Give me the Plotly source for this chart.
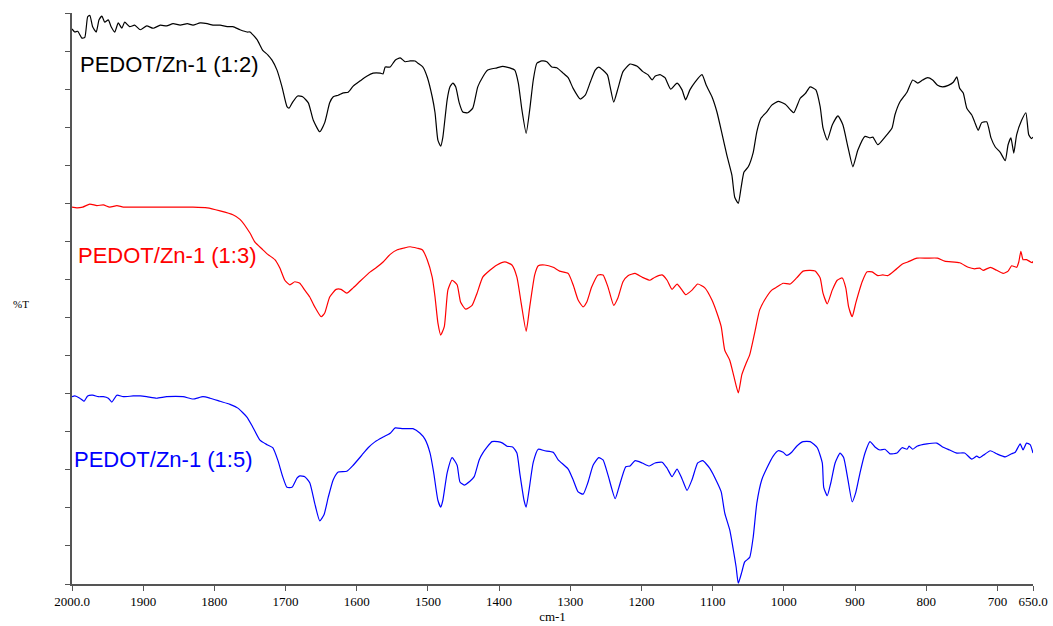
import plotly.graph_objects as go

# FTIR spectra of PEDOT/Zn-1 composites (wavenumber in cm-1, %T in arbitrary offset units)
wn_12 = [2000, 1996, 1992, 1986, 1982, 1978, 1975, 1971, 1966, 1962, 1958, 1954, 1949, 1945, 1940,
         1935, 1930, 1926, 1919, 1912, 1904, 1895, 1886, 1876, 1867, 1858, 1848, 1838, 1830, 1820,
         1810, 1802, 1792, 1782, 1774, 1764, 1754, 1750, 1740, 1732, 1725, 1719, 1712, 1705, 1698,
         1695, 1690, 1683, 1676, 1668, 1661, 1652, 1645, 1638, 1633, 1626, 1619, 1612, 1605, 1595,
         1586, 1577, 1567, 1563, 1560, 1553, 1546, 1539, 1532, 1525, 1518, 1514, 1507, 1501, 1494,
         1490, 1486, 1482, 1479, 1473, 1469, 1465, 1461, 1456, 1451, 1444, 1437, 1430, 1423, 1416,
         1403, 1395, 1385, 1378, 1373, 1368, 1362, 1357, 1352, 1347, 1340, 1333, 1326, 1319, 1310,
         1303, 1296, 1286, 1279, 1272, 1265, 1260, 1248, 1244, 1239, 1233, 1226, 1216, 1206, 1198,
         1191, 1185, 1181, 1174, 1167, 1159, 1150, 1143, 1138, 1132, 1125, 1115, 1109, 1101, 1094,
         1087, 1080, 1073, 1069, 1064, 1060, 1056, 1050, 1043, 1038, 1032, 1024, 1017, 1008, 998,
         991, 986, 977, 970, 963, 955, 949, 945, 939, 932, 924, 917, 910, 903, 896,
         886, 879, 875, 868, 858, 848, 844, 837, 827, 819, 812, 805, 798, 791, 784,
         777, 769, 762, 757, 753, 748, 743, 736, 732, 727, 722, 715, 709, 703, 696,
         689, 685, 681, 677, 673, 666, 660, 656, 652, 650]
t_12 = [72.9, 72.5, 72.6, 71.7, 71.8, 74.5, 74.7, 73.2, 72.5, 74.1, 74.6, 73.8, 74.1, 73.2, 72.5,
        73.7, 73.0, 73.8, 73.2, 73.4, 72.8, 73.3, 73.0, 73.4, 73.3, 73.6, 73.4, 73.6, 73.4, 73.7,
        73.6, 73.4, 73.4, 73.2, 73.2, 72.8, 72.5, 72.5, 71.5, 70.1, 69.5, 68.8, 67.5, 65.3, 62.7,
        62.5, 63.3, 64.1, 64.0, 63.2, 60.9, 59.4, 60.6, 63.2, 64.0, 64.2, 64.5, 64.6, 65.4, 66.1,
        66.7, 67.1, 67.1, 67.0, 67.9, 67.9, 68.8, 69.1, 68.6, 68.7, 68.7, 68.4, 67.9, 66.6, 64.0,
        61.9, 58.3, 57.5, 58.7, 63.6, 65.3, 65.8, 65.3, 63.2, 62.0, 61.9, 62.5, 65.3, 66.6, 67.5,
        67.8, 68.0, 67.8, 67.5, 65.8, 62.3, 59.2, 62.3, 66.2, 68.4, 68.7, 68.6, 67.9, 67.8, 67.1,
        66.5, 65.1, 63.7, 64.2, 65.9, 67.5, 67.9, 66.9, 65.3, 63.3, 65.1, 67.3, 68.3, 68.0, 67.3,
        66.9, 66.2, 66.7, 66.9, 66.5, 65.0, 65.8, 64.9, 63.6, 64.9, 65.9, 66.9, 65.5, 64.0, 62.0,
        59.2, 56.3, 53.7, 50.8, 50.0, 52.1, 54.1, 54.8, 56.7, 59.4, 61.2, 62.0, 62.9, 63.4, 63.0,
        62.3, 61.9, 63.8, 64.4, 65.3, 64.9, 62.7, 59.9, 58.3, 60.3, 61.5, 60.3, 57.4, 54.8, 57.0,
        58.8, 58.6, 58.7, 57.7, 58.7, 59.9, 61.6, 63.3, 64.6, 66.2, 65.8, 66.2, 66.5, 66.2, 65.5,
        65.3, 65.5, 65.9, 66.6, 65.1, 64.5, 62.5, 61.6, 60.7, 59.6, 60.6, 60.7, 58.6, 57.4, 56.7,
        55.6, 57.7, 58.6, 56.6, 59.0, 60.9, 61.9, 59.0, 58.5, 58.7]

wn_13 = [2000, 1993, 1985, 1975, 1965, 1956, 1947, 1937, 1928, 1914, 1890, 1867, 1844, 1830, 1810,
         1792, 1774, 1764, 1750, 1743, 1733, 1725, 1715, 1708, 1701, 1694, 1687, 1680, 1673, 1666,
         1659, 1650, 1645, 1638, 1629, 1622, 1614, 1605, 1595, 1581, 1572, 1563, 1553, 1543, 1535,
         1525, 1515, 1508, 1501, 1494, 1490, 1486, 1482, 1477, 1472, 1466, 1459, 1454, 1447, 1438,
         1431, 1423, 1413, 1403, 1392, 1382, 1375, 1369, 1362, 1357, 1350, 1345, 1336, 1324, 1315,
         1303, 1296, 1289, 1282, 1277, 1270, 1261, 1254, 1247, 1239, 1233, 1226, 1219, 1209, 1199,
         1188, 1181, 1171, 1164, 1157, 1150, 1143, 1138, 1129, 1121, 1111, 1101, 1094, 1088, 1083,
         1076, 1070, 1064, 1059, 1053, 1048, 1041, 1034, 1027, 1017, 1010, 1001, 991, 982, 973,
         963, 956, 949, 945, 939, 932, 925, 918, 913, 909, 904, 899, 890, 883, 876,
         868, 861, 854, 844, 834, 826, 813, 799, 784, 774, 753, 741, 732, 725, 720,
         710, 701, 692, 685, 680, 673, 670, 667, 664, 659, 651, 650]
t_13 = [49.5, 49.4, 49.5, 49.9, 49.7, 49.8, 49.5, 49.7, 49.5, 49.5, 49.5, 49.5, 49.5, 49.5, 49.4,
        49.0, 48.5, 47.9, 46.1, 44.9, 44.0, 43.3, 42.6, 41.5, 39.9, 39.3, 39.7, 39.5, 38.6, 37.7,
        36.4, 35.1, 35.6, 37.7, 38.7, 38.7, 38.2, 38.9, 39.8, 41.0, 41.6, 42.3, 43.3, 43.9, 44.1,
        44.3, 44.1, 43.9, 42.6, 40.3, 37.7, 34.3, 32.7, 33.8, 38.6, 39.9, 39.3, 37.0, 36.1, 36.6,
        38.2, 40.3, 41.2, 41.9, 42.3, 41.9, 40.3, 36.9, 33.2, 36.4, 40.6, 41.8, 41.9, 41.6, 41.1,
        40.8, 39.3, 37.3, 36.4, 37.0, 39.0, 40.6, 40.6, 39.0, 36.6, 37.6, 39.7, 40.5, 40.8, 40.3,
        39.9, 40.3, 40.6, 39.9, 38.7, 39.4, 38.6, 38.0, 38.6, 39.4, 38.9, 37.3, 35.6, 33.8, 30.7,
        29.4, 27.2, 25.1, 27.5, 29.0, 30.1, 33.0, 36.0, 37.3, 38.6, 39.0, 39.5, 39.4, 40.2, 41.1,
        41.2, 41.1, 40.2, 38.2, 36.8, 38.6, 39.9, 40.2, 38.9, 36.4, 35.1, 36.9, 39.7, 41.0, 41.0,
        40.5, 40.6, 40.5, 41.2, 42.0, 42.3, 42.8, 42.8, 42.8, 42.4, 42.2, 41.6, 41.4, 41.5, 41.2,
        41.6, 41.2, 40.8, 41.1, 41.8, 41.6, 42.3, 43.7, 42.6, 42.6, 42.2, 42.4]

wn_15 = [2000, 1996, 1989, 1983, 1978, 1971, 1963, 1956, 1949, 1944, 1937, 1928, 1914, 1904, 1895,
         1881, 1867, 1844, 1830, 1816, 1806, 1792, 1778, 1767, 1754, 1746, 1736, 1726, 1718, 1711,
         1704, 1698, 1691, 1684, 1680, 1673, 1666, 1659, 1652, 1646, 1640, 1633, 1626, 1614, 1605,
         1593, 1584, 1574, 1563, 1553, 1546, 1535, 1521, 1511, 1504, 1497, 1492, 1486, 1482, 1479,
         1473, 1466, 1459, 1455, 1449, 1441, 1435, 1428, 1423, 1410, 1402, 1395, 1389, 1381, 1375,
         1371, 1365, 1362, 1358, 1352, 1345, 1336, 1324, 1317, 1303, 1296, 1289, 1282, 1275, 1268,
         1260, 1254, 1247, 1237, 1232, 1222, 1216, 1209, 1199, 1189, 1181, 1171, 1164, 1157, 1150,
         1143, 1136, 1129, 1121, 1114, 1104, 1094, 1088, 1083, 1076, 1071, 1067, 1064, 1059, 1055,
         1048, 1043, 1038, 1031, 1024, 1015, 1008, 1001, 996, 989, 982, 973, 963, 953, 946,
         944, 939, 934, 928, 921, 916, 910, 904, 899, 893, 886, 879, 872, 865, 858,
         851, 841, 834, 827, 824, 819, 813, 799, 785, 777, 767, 757, 746, 736, 729,
         725, 720, 710, 701, 689, 680, 675, 668, 664, 659, 654, 650]
t_15 = [24.6, 24.7, 24.4, 24.0, 24.7, 24.8, 24.6, 24.6, 24.4, 23.9, 24.8, 24.6, 24.7, 24.7, 24.6,
        24.4, 24.6, 24.6, 24.3, 24.6, 24.4, 24.0, 23.6, 23.1, 21.9, 20.6, 18.9, 18.3, 17.9, 16.3,
        14.1, 12.7, 12.7, 13.9, 14.2, 14.1, 13.3, 10.6, 8.3, 9.1, 11.4, 13.7, 14.7, 14.8, 15.6,
        16.9, 17.9, 18.7, 19.3, 19.8, 20.5, 20.4, 20.4, 19.8, 19.0, 17.2, 14.7, 11.0, 10.1, 11.0,
        14.6, 16.6, 15.6, 13.4, 13.0, 13.5, 14.1, 16.3, 17.2, 18.7, 18.7, 18.5, 18.1, 18.0, 17.2,
        14.6, 11.0, 10.1, 12.3, 16.0, 17.7, 17.5, 17.3, 16.3, 15.1, 13.7, 12.1, 11.8, 13.4, 15.6,
        16.6, 16.3, 14.3, 11.2, 12.6, 15.4, 15.5, 16.2, 15.9, 15.5, 15.9, 16.0, 15.2, 14.1, 15.1,
        13.8, 12.3, 13.7, 15.9, 16.2, 15.2, 13.4, 12.1, 9.3, 7.1, 4.5, 2.2, 0.1, 1.6, 2.9,
        3.5, 6.2, 10.6, 13.7, 15.2, 16.8, 17.5, 17.3, 16.9, 17.3, 18.1, 18.7, 18.7, 17.9, 15.9,
        12.7, 11.6, 13.3, 15.9, 17.2, 16.6, 13.7, 10.8, 12.0, 14.6, 17.2, 18.7, 18.0, 17.6, 17.7,
        17.1, 17.2, 17.9, 17.7, 18.1, 17.7, 18.1, 18.4, 18.5, 18.0, 17.6, 17.2, 17.2, 16.4, 16.8,
        16.6, 16.9, 17.5, 17.1, 16.7, 17.1, 17.3, 18.4, 17.6, 18.5, 18.3, 17.2]

x_ticks = [2000, 1900, 1800, 1700, 1600, 1500, 1400, 1300, 1200, 1100, 1000, 900, 800, 700, 650]
x_tick_text = ["2000.0", "1900", "1800", "1700", "1600", "1500", "1400", "1300", "1200",
               "1100", "1000", "900", "800", "700", "650.0"]

series = [
    ("PEDOT/Zn-1 (1:2)", wn_12, t_12, "#000000", 1991, 68.2),
    ("PEDOT/Zn-1 (1:3)", wn_13, t_13, "#ff0000", 1995, 43.2),
    ("PEDOT/Zn-1 (1:5)", wn_15, t_15, "#0000ff", 2000, 16.4),
]

fig = go.Figure()

for name, wn, t, color, lx, ly in series:
    fig.add_trace(go.Scatter(x=wn, y=t, mode="lines", name=name,
                             line=dict(color=color, width=1.2, shape="spline", smoothing=0.5),
                             showlegend=False))
    fig.add_annotation(x=lx, y=ly, text=name, showarrow=False,
                       xanchor="left", yanchor="middle",
                       font=dict(family="Liberation Sans, Arial", size=22, color=color))

fig.update_xaxes(
    range=[2000, 650], tickmode="array", tickvals=x_ticks, ticktext=x_tick_text,
    automargin=False,
    showgrid=False, zeroline=False, showline=True, linecolor="#555555", linewidth=1.5,
    ticks="outside", ticklen=5, tickcolor="#555555", tickwidth=1,
    tickfont=dict(family="Liberation Serif, Times New Roman", size=13, color="#000000"),
    title=dict(text="cm-1", standoff=2,
               font=dict(family="Liberation Serif, Times New Roman", size=13, color="#000000")),
)
fig.update_yaxes(
    range=[0, 75], dtick=5, showticklabels=False, automargin=False,
    showgrid=False, zeroline=False, showline=True, linecolor="#555555", linewidth=1.5,
    ticks="outside", ticklen=5, tickcolor="#555555", tickwidth=1,
)

fig.add_annotation(x=-0.053, y=0.49, xref="paper", yref="paper", text="%T", showarrow=False,
                   xanchor="center", yanchor="middle",
                   font=dict(family="Liberation Serif, Times New Roman", size=11, color="#000000"))

# start small enough to fit inside the default 8px body margin (no scrollbars),
# then drop the margin and grow to the full window in post_script
fig.update_layout(
    width=1037, height=610,
    margin=dict(l=72, r=20, t=13, b=42),
    plot_bgcolor="white", paper_bgcolor="white",
)

fig.write_html(
    "out.html",
    config={"displayModeBar": False},
    post_script="document.body.style.margin='0';"
                "Plotly.relayout('{plot_id}', {width: 1053, height: 626});",
)
